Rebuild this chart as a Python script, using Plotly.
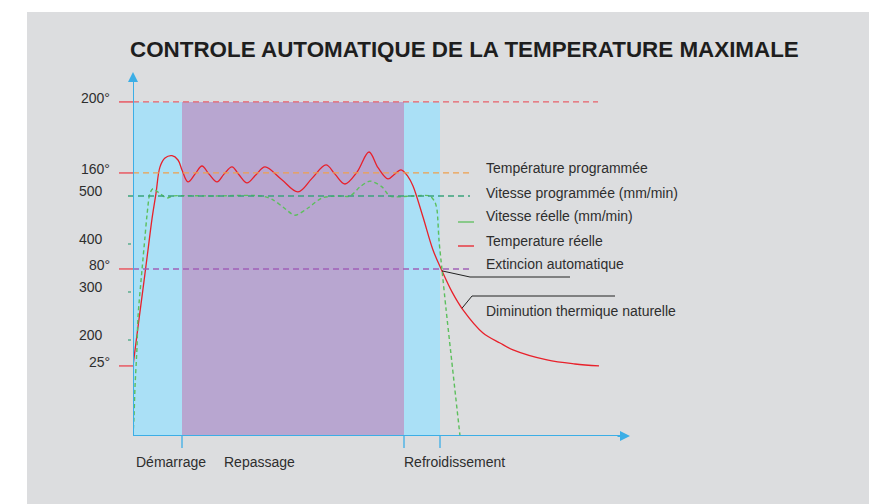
import numpy as np
import plotly.graph_objects as go

# ---------------- data ----------------
title = "CONTROLE AUTOMATIQUE DE LA TEMPERATURE MAXIMALE"

phase_names = ["Démarrage", "Repassage", "Refroidissement"]
phase_bounds = [0, 49, 271, 307]          # time units (schematic)
x_end = 497

temp_ticks = [25, 80, 160, 200]                 # °C labels
temp_tick_labels = ["25°", "80°", "160°", "200°"]
temp_tick_pos = [146, 348, 548, 696]            # position on the schematic vertical scale
speed_ticks = [200, 300, 400, 500]              # mm/min
speed_tick_labels = ["200", "300", "400", "500"]

temp_max = 200
temp_prog = 160
temp_stop = 80
speed_prog = 500

t_temp = [0, 5, 10, 15, 19, 23, 27, 32, 39, 45, 49, 55, 62, 69, 76, 84, 91, 99, 106, 114,
          123, 132, 148, 165, 179, 193, 202, 212, 224, 236, 245, 255, 261, 268, 275, 280,
          290, 300, 309, 319, 330, 350, 367, 380, 414, 442, 466]
temp_real = [25, 47.1, 68.7, 95.8, 121.7, 143, 163.4, 168.4, 169.7, 167.3, 161.7, 152.5,
             159.0, 163.9, 159.0, 152.5, 159.0, 163.4, 158.5, 151.7, 158.5, 163.4, 155.0,
             144.2, 155.5, 164.5, 159.0, 150.8, 160.5, 171.8, 163.0, 155.0, 158.5, 161.7,
             157.0, 149.2, 123.3, 95.8, 78.9, 67.0, 56.8, 43.7, 38.0, 34.1, 28.4, 26.1, 25]

t_speed = [0, 1, 2, 4, 5, 9, 12, 14, 17, 20, 25, 34, 40, 80, 129, 140, 150, 162, 175,
           189, 205, 217, 227, 237, 249, 257, 280, 297, 302, 304, 306, 309, 313, 318, 327]
speed_real = [0, 40, 102, 185, 248, 346, 415, 460, 506, 515, 508, 496, 500, 500, 500,
              492, 477, 460, 475, 496, 500, 500, 519, 531, 519, 500, 500, 500, 487, 471,
              408, 346, 265, 170, 0]

legend_texts = ["Température programmée", "Vitesse programmée (mm/min)",
                "Vitesse réelle (mm/min)", "Temperature réelle",
                "Extincion automatique", "Diminution thermique naturelle"]

# ---------------- styles ----------------
BG = "#dcdddf"
BLUE_BAND = "#aae0f6"
PURPLE_BAND = "#b8a6d0"
AXIS = "#3caee6"
RED = "#e8212b"
RED_REF = "#e8606a"
ORANGE = "#eea04e"
TEAL = "#3aa27c"
GREEN = "#5cbf5c"
PURPLE = "#a060b8"
TEXT = "#2e2e2e"
FONT = "Liberation Sans, Arial, sans-serif"

# page offset (browser body margin) and plot area in screen pixels
OFF = 8
W, H = 877, 504
SL, ST, PW, PH = 133, 72, 497, 364      # screen position of plot area
PL, PT = SL - OFF, ST - OFF             # figure position of plot area
y_top = 758.3


def tpos(t):
    return np.interp(t, temp_ticks, temp_tick_pos)


def px(X):
    return (X - SL) / PW


def py(Y):
    return (ST + PH - Y) / PH


fig = go.Figure()

# temperature (real)
fig.add_trace(go.Scatter(x=t_temp, y=tpos(np.array(temp_real)), mode="lines",
                         line=dict(color=RED, width=1.3, shape="spline", smoothing=1.0),
                         hoverinfo="skip", showlegend=False))
# speed (real)
fig.add_trace(go.Scatter(x=t_speed, y=speed_real, mode="lines",
                         line=dict(color=GREEN, width=1.4, dash="4px,3px", shape="spline",
                                   smoothing=0.8),
                         hoverinfo="skip", showlegend=False))

shapes = []
# gray panel
shapes.append(dict(type="rect", xref="paper", yref="paper", x0=px(27), x1=px(877 + 20),
                   y0=py(12), y1=py(504 + 20), fillcolor=BG, line=dict(width=0), layer="below"))
# phase bands
band_cols = [BLUE_BAND, PURPLE_BAND, BLUE_BAND]
for i in range(3):
    shapes.append(dict(type="rect", xref="x", yref="y", x0=phase_bounds[i], x1=phase_bounds[i + 1],
                       y0=0, y1=tpos(temp_max), fillcolor=band_cols[i], line=dict(width=0),
                       layer="below"))

# reference lines
shapes.append(dict(type="line", xref="x", yref="y", x0=0, x1=465, y0=tpos(temp_max), y1=tpos(temp_max),
                   line=dict(color=RED_REF, width=1.4, dash="6px,4px")))
shapes.append(dict(type="line", xref="x", yref="y", x0=0, x1=337, y0=tpos(temp_prog), y1=tpos(temp_prog),
                   line=dict(color=ORANGE, width=1.2, dash="6px,4px")))
shapes.append(dict(type="line", xref="paper", yref="y", x0=px(128), x1=px(470), y0=speed_prog, y1=speed_prog,
                   line=dict(color=TEAL, width=1.4, dash="6px,4px")))
shapes.append(dict(type="line", xref="x", yref="y", x0=0, x1=337, y0=tpos(temp_stop), y1=tpos(temp_stop),
                   line=dict(color=PURPLE, width=1.4, dash="6px,4px")))

# temperature ticks (red), speed ticks (green)
for t in temp_ticks:
    shapes.append(dict(type="line", xref="paper", yref="y", x0=px(119), x1=px(133), y0=tpos(t), y1=tpos(t),
                       line=dict(color=RED_REF, width=1.6)))
for s in speed_ticks[:-1]:
    shapes.append(dict(type="line", xref="paper", yref="y", x0=px(128), x1=px(131), y0=s, y1=s,
                       line=dict(color=TEAL, width=1.2)))

# axes
shapes.append(dict(type="line", xref="x", yref="y", x0=0, x1=0, y0=0, y1=y_top - 6,
                   line=dict(color=AXIS, width=2)))
shapes.append(dict(type="line", xref="x", yref="y", x0=0, x1=x_end - 6, y0=0, y1=0,
                   line=dict(color=AXIS, width=2)))
for b in phase_bounds[1:]:
    shapes.append(dict(type="line", xref="x", yref="paper", x0=b, x1=b, y0=0, y1=py(448),
                       line=dict(color=AXIS, width=1.3)))

# legend sample lines
shapes.append(dict(type="line", xref="paper", yref="paper", x0=px(458), x1=px(474), y0=py(222), y1=py(222),
                   line=dict(color=GREEN, width=1.3)))
shapes.append(dict(type="line", xref="paper", yref="paper", x0=px(458), x1=px(474), y0=py(246), y1=py(246),
                   line=dict(color=RED, width=1.3)))


# callout lines anchored on the cooling curve
def curve_point(t):
    return t, float(tpos(np.interp(t, t_temp, temp_real)))


c1x, c1y = curve_point(309)
c2x, c2y = curve_point(329)
Yd = lambda Y: (ST + PH - Y) / PH * y_top
Xd = lambda X: (X - SL)
shapes.append(dict(type="path", xref="x", yref="y",
                   path=f"M {c1x},{c1y} L {Xd(470)},{Yd(277)} L {Xd(570)},{Yd(277)}",
                   line=dict(color="#222222", width=1)))
shapes.append(dict(type="path", xref="x", yref="y",
                   path=f"M {c2x},{c2y} L {Xd(472)},{Yd(296)} L {Xd(615)},{Yd(296)}",
                   line=dict(color="#222222", width=1)))

annotations = []
# axis arrows
annotations.append(dict(x=0, y=y_top, ax=0, ay=y_top - 14, xref="x", yref="y", axref="x", ayref="y",
                        text="", showarrow=True, arrowhead=2, arrowsize=1, arrowwidth=2,
                        arrowcolor=AXIS))
annotations.append(dict(x=x_end, y=0, ax=x_end - 14, ay=0, xref="x", yref="y", axref="x", ayref="y",
                        text="", showarrow=True, arrowhead=2, arrowsize=1, arrowwidth=2,
                        arrowcolor=AXIS))

# title
annotations.append(dict(x=px(464), y=py(49), xref="paper", yref="paper", text=f"<b>{title}</b>",
                        showarrow=False, xanchor="center", yanchor="middle",
                        font=dict(family=FONT, size=22.4, color="#1e1e1e")))

# y tick labels
for t, lab in zip(temp_ticks, temp_tick_labels):
    annotations.append(dict(x=px(112), y=tpos(t), xref="paper", yref="y", text=lab, showarrow=False,
                            xanchor="right", yanchor="middle", yshift=4,
                            font=dict(family=FONT, size=14, color=TEXT)))
for s, lab in zip(speed_ticks, speed_tick_labels):
    annotations.append(dict(x=px(105), y=s, xref="paper", yref="y", text=lab, showarrow=False,
                            xanchor="right", yanchor="middle", yshift=5,
                            font=dict(family=FONT, size=14, color=TEXT)))

# legend texts
legend_y = [168, 193, 216, 241, 264, 311]
for txt, Y in zip(legend_texts, legend_y):
    annotations.append(dict(x=px(484), y=py(Y), xref="paper", yref="paper", text=txt, showarrow=False,
                            xanchor="left", yanchor="middle",
                            font=dict(family=FONT, size=14, color=TEXT)))

# phase labels
phase_label_x = [134, 222, 402]
for name, X in zip(phase_names, phase_label_x):
    annotations.append(dict(x=px(X), y=py(462), xref="paper", yref="paper", text=name, showarrow=False,
                            xanchor="left", yanchor="middle",
                            font=dict(family=FONT, size=14, color=TEXT)))

fig.update_layout(
    width=W, height=H,
    margin=dict(l=PL, r=W - PL - PW, t=PT, b=H - PT - PH, pad=0),
    paper_bgcolor="white", plot_bgcolor="rgba(0,0,0,0)",
    xaxis=dict(range=[0, x_end], visible=False, fixedrange=True),
    yaxis=dict(range=[0, y_top], visible=False, fixedrange=True),
    shapes=shapes, annotations=annotations, showlegend=False,
)

fig.write_html("out.html", config={"displayModeBar": False},
               post_script="document.documentElement.style.overflow='hidden';"
                           "document.body.style.overflow='hidden';")
